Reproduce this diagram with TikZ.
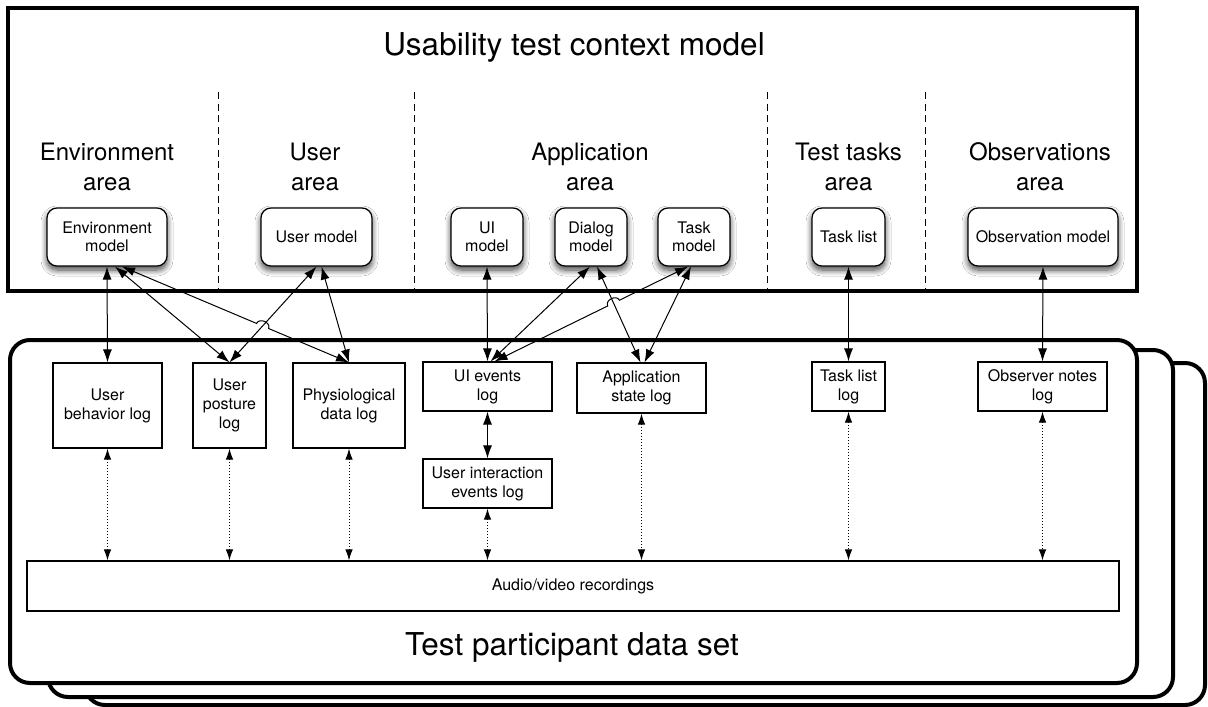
\documentclass[tikz,border=0pt]{standalone}
\usepackage{fontspec}
\setmainfont{TeX Gyre Heros}
\usetikzlibrary{arrows.meta,calc,intersections,shadows.blur}
\tikzset{
  model/.style={draw, line width=1.2pt, rounded corners=10pt, fill=white, align=center,
    inner sep=0pt, minimum height=58pt, font=\fontsize{16}{18}\selectfont,
    blur shadow={shadow xshift=0pt, shadow yshift=-4pt, shadow blur radius=6pt,
      shadow blur steps=10, shadow opacity=75}},
  logbox/.style={draw, line width=1.1pt, fill=white, align=center, inner sep=0pt,
    font=\fontsize{16}{19}\selectfont},
  arealabel/.style={align=center, font=\fontsize{24}{30}\selectfont},
  bigtitle/.style={anchor=base, font=\fontsize{31.5}{36}\selectfont},
  conn/.style={line width=1pt, {Latex[length=13pt,width=9pt]}-{Latex[length=13pt,width=9pt]}},
  dconn/.style={line width=1pt, dotted, {Latex[length=11pt,width=7.5pt]}-{Latex[length=11pt,width=7.5pt]}},
  divider/.style={line width=0.9pt, dash pattern=on 7pt off 4.5pt},
  frame/.style={line width=4pt, fill=white},
  stack/.style={line width=4pt, fill=white, rounded corners=20pt},
  jump/.style={bend left=90, looseness=1.3}
}
\begin{document}
\begin{tikzpicture}[x=1pt,y=-1pt]
\useasboundingbox (0,0) rectangle (1208,707);

% ---- upper context model frame
\draw[frame] (8,8) rectangle (1137,291);
\node[bigtitle] (title) at (574,55) {Usability test context model};
\foreach \xx in {218,414.6,767.4,925.6}
  \draw[divider] (\xx,92) -- (\xx,289);

\node[arealabel] (envarea) at (107,167) {Environment\\area};
\node[arealabel] (userarea) at (315,167) {User\\area};
\node[arealabel] (apparea) at (590,167) {Application\\area};
\node[arealabel] (taskarea) at (848.5,167) {Test tasks\\area};
\node[arealabel] (obsarea) at (1040,167) {Observations\\area};

\node[model, minimum width=120pt] (envm) at (107,237) {Environment\\model};
\node[model, minimum width=111pt] (userm) at (316.5,237) {User model};
\node[model, minimum width=72pt] (uim) at (487,237) {UI\\model};
\node[model, minimum width=72pt] (dialogm) at (591,237) {Dialog\\model};
\node[model, minimum width=72pt] (taskm) at (694,237) {Task\\model};
\node[model, minimum width=73pt] (tasklist) at (848.5,237) {Task list};
\node[model, minimum width=150pt] (obsm) at (1043,237) {Observation model};

% ---- stacked data sets
\draw[stack] (85,363) rectangle (1205,705);
\draw[stack] (48,350) rectangle (1173,697);
\draw[stack] (10,340) rectangle (1137,683);

\node[logbox, minimum width=109pt, minimum height=85pt] (behav) at (107.5,405.5) {User\\behavior log};
\node[logbox, minimum width=73pt, minimum height=85pt] (posture) at (229.5,405.5) {User\\posture\\log};
\node[logbox, minimum width=112pt, minimum height=85pt] (physio) at (349,405.5) {Physiological\\data log};
\node[logbox, minimum width=129pt, minimum height=49pt] (uiev) at (487.5,386.5) {UI events\\log};
\node[logbox, minimum width=129pt, minimum height=50pt] (appst) at (641.5,388) {Application\\state log};
\node[logbox, minimum width=129pt, minimum height=49pt] (uie) at (487.5,483.5) {User interaction\\events log};
\node[logbox, minimum width=73pt, minimum height=49pt] (tasklog) at (848.5,386.5) {Task list\\log};
\node[logbox, minimum width=129pt, minimum height=49pt] (obsn) at (1042.5,386.5) {Observer notes\\log};
\node[logbox, minimum width=1092pt, minimum height=50pt] (audio) at (573,586) {Audio/video recordings};

\node[bigtitle] (dstitle) at (572,655) {Test participant data set};

% ---- solid connectors
\coordinate (e2) at ([xshift=8pt]envm.south);
\coordinate (e3) at ([xshift=15pt]envm.south);
\coordinate (u5) at ([xshift=5pt]userm.south);
\draw[conn] (envm.south) -- (behav.north);
\draw[conn] (e2) -- (posture.north);
\path[name path=p4] (userm.south) -- (posture.north);
\draw[conn] (userm.south) -- (posture.north);
\draw[conn] (u5) -- (physio.north);
\path[name path=p3] (e3) -- (physio.north);
\path[name intersections={of=p3 and p4, by=x34}];
\draw[conn] (e3) -- ($(x34)!6.5pt!(e3)$) to[jump] ($(x34)!6.5pt!(physio.north)$) -- (physio.north);

\coordinate (u7) at ([xshift=3pt]uiev.north);
\coordinate (u8) at ([xshift=7pt]uiev.north);
\coordinate (d7) at ([xshift=-1pt]dialogm.south);
\coordinate (d9) at ([xshift=6pt]dialogm.south);
\coordinate (t8) at ([xshift=-6pt]taskm.south);
\coordinate (t10) at ([xshift=-3pt]taskm.south);
\coordinate (a9) at ([xshift=-1pt]appst.north);
\coordinate (a10) at ([xshift=3pt]appst.north);
\draw[conn] (uim.south) -- (uiev.north);
\draw[conn] (d7) -- (u7);
\path[name path=p9] (d9) -- (a9);
\draw[conn] (d9) -- (a9);
\draw[conn] (t10) -- (a10);
\path[name path=p8] (u8) -- (t8);
\path[name intersections={of=p8 and p9, by=x89}];
\draw[conn] (u8) -- ($(x89)!6.5pt!(u8)$) to[jump] ($(x89)!6.5pt!(t8)$) -- (t8);

\draw[conn] (tasklist.south) -- (tasklog.north);
\draw[conn] (obsm.south) -- (obsn.north);
\draw[conn] (uiev.south) -- (uie.north);

% ---- dotted connectors to recordings
\foreach \n in {behav,posture,physio,uie,appst,tasklog,obsn}
  \draw[dconn] (\n.south) -- (\n.south |- audio.north);
\end{tikzpicture}
\end{document}
